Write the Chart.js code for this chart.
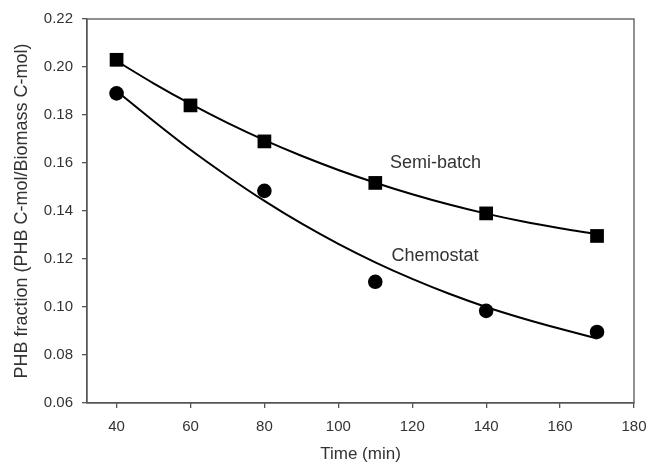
<!DOCTYPE html>
<html>
<head>
<meta charset="utf-8">
<script src="https://cdn.jsdelivr.net/npm/chart.js@4"></script>
<style>
html,body{margin:0;padding:0;background:#fff;}
#wrap{width:648px;height:465px;}
</style>
</head>
<body>
<div id="wrap"><canvas id="chart"></canvas></div>
<script>
// measured points
let sampleTimes = [40, 60, 80, 110, 140, 170];
let semiBatch = [0.203, 0.184, 0.169, 0.1517, 0.139, 0.1296];
let chemoTimes = [40, 80, 110, 140, 170];
let chemostat = [0.189, 0.1484, 0.1105, 0.0984, 0.0896];

// fitted curves
let fitTimes = [40, 50, 60, 70, 80, 90, 100, 110, 120, 130, 140, 150, 160, 170];
let semiFit = [0.2025, 0.1932, 0.1846, 0.1767, 0.1695, 0.1630, 0.1571, 0.1518, 0.1470, 0.1427, 0.1389, 0.1356, 0.1328, 0.1303];
let chemoFit = [0.190, 0.1775, 0.1655, 0.1545, 0.1442, 0.1348, 0.1263, 0.1186, 0.1117, 0.1055, 0.1000, 0.0952, 0.0909, 0.0869];

let xTicks = [40, 60, 80, 100, 120, 140, 160, 180];
let yTicks = [0.06, 0.08, 0.10, 0.12, 0.14, 0.16, 0.18, 0.20, 0.22];

// curve labels: [text, x, y]
let notes = [["Semi-batch", 114, 0.1598], ["Chemostat", 114.4, 0.1212]];

function pts(xs, ys){
return xs.map((x,i)=>({x:x, y:ys[i]}));
}

let boxPlugin = {
id:"box",
afterDraw(c){
let a = c.chartArea, ctx = c.ctx;
ctx.save();
ctx.strokeStyle = "#555";
ctx.lineWidth = 1.3;
ctx.strokeRect(a.left, a.top, a.right - a.left, a.bottom - a.top);
ctx.fillStyle = "#333";
ctx.font = "18px 'Liberation Sans', Arial, sans-serif";
ctx.textBaseline = "middle";
ctx.textAlign = "left";
notes.forEach(n=>{
ctx.fillText(n[0], c.scales.x.getPixelForValue(n[1]), c.scales.y.getPixelForValue(n[2]));
});
ctx.restore();
}
};

let tickFont = {family:"'Liberation Sans', Arial, sans-serif", size:15};

new Chart(document.getElementById("chart"),{
type:"scatter",
data:{
datasets:[
{data:pts(fitTimes, semiFit), showLine:true, borderColor:"#000", borderWidth:2, pointRadius:0, tension:0.4, cubicInterpolationMode:"monotone"},
{data:pts(fitTimes, chemoFit), showLine:true, borderColor:"#000", borderWidth:2, pointRadius:0, tension:0.4, cubicInterpolationMode:"monotone"},
{data:pts(sampleTimes, semiBatch), pointStyle:"rect", pointRadius:9.7, backgroundColor:"#000", borderColor:"#000", borderWidth:0},
{data:pts(chemoTimes, chemostat), pointStyle:"circle", pointRadius:7.3, backgroundColor:"#000", borderColor:"#000", borderWidth:0}
]
},
options:{
responsive:true,
maintainAspectRatio:false,
animation:false,
layout:{padding:{top:19, right:14, left:0, bottom:0}},
plugins:{legend:{display:false}, tooltip:{enabled:false}},
scales:{
x:{
type:"linear", min:32, max:180,
afterBuildTicks(s){ s.ticks = xTicks.map(v=>({value:v})); },
afterFit(s){ s.height = 62; s.paddingLeft = 0; s.paddingRight = 0; },
grid:{drawOnChartArea:false, drawTicks:true, tickLength:5, color:"#555", lineWidth:1.3},
border:{color:"#555", width:1.3},
ticks:{color:"#333", font:tickFont, padding:10, maxRotation:0},
title:{display:true, text:"Time (min)", color:"#333", font:{family:"'Liberation Sans', Arial, sans-serif", size:17}, padding:{top:0, bottom:0}}
},
y:{
type:"linear", min:0.06, max:0.22,
afterBuildTicks(s){ s.ticks = yTicks.map(v=>({value:v})); },
afterFit(s){ s.width = 87; s.paddingTop = 0; s.paddingBottom = 0; },
grid:{drawOnChartArea:false, drawTicks:true, tickLength:5, color:"#555", lineWidth:1.3},
border:{color:"#555", width:1.3},
ticks:{color:"#333", font:tickFont, padding:9, callback:v=>v.toFixed(2)},
title:{display:true, text:"PHB fraction (PHB C-mol/Biomass C-mol)", color:"#333", font:{family:"'Liberation Sans', Arial, sans-serif", size:18}, padding:{top:11, bottom:0}}
}
}
},
plugins:[boxPlugin]
});
</script>
</body>
</html>
